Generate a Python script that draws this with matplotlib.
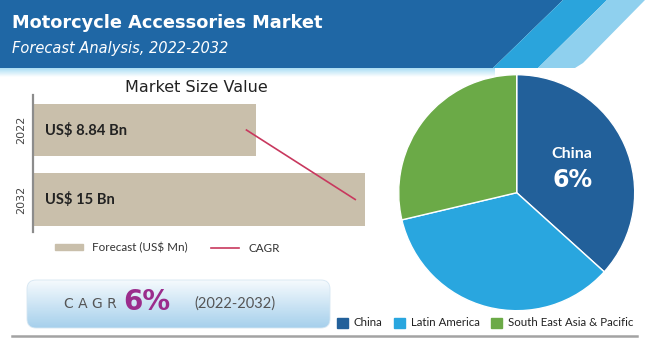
import numpy as np
import matplotlib.pyplot as plt
from matplotlib.patches import Polygon, FancyBboxPatch, Patch
from matplotlib.lines import Line2D

# data
years = ['2022', '2032']
market_size = [8.84, 15.0]
bar_labels = ['US$ 8.84 Bn', 'US$ 15 Bn']
regions = ['China', 'Latin America', 'South East Asia & Pacific']
region_share = [36.7, 34.6, 28.7]
cagr_value = '6%'

bar_color = '#C9BFAB'
line_color = '#C8385E'
region_colors = ['#22609A', '#29A6DF', '#6BAA47']

fig = plt.figure(figsize=(6.5, 3.41), dpi=100)

# background layer in pixel units
bg = fig.add_axes([0, 0, 1, 1], zorder=0)
bg.set_xlim(0, 650)
bg.set_ylim(341, 0)
bg.axis('off')

# header band with stripes
bg.add_patch(Polygon([(0, 0), (563, 0), (493, 68), (0, 68)], color='#1F67A5', lw=0))
bg.add_patch(Polygon([(563, 0), (607, 0), (538, 68), (493, 68)], color='#2AA4DC', lw=0))
bg.add_patch(Polygon([(607, 0), (645, 0), (583, 63), (575, 68), (538, 68)], color='#8FD0EE', lw=0))

def vgrad(c_top, c_bot, n=64):
    t = np.linspace(0, 1, n)[:, None, None]
    a = np.array(plt.matplotlib.colors.to_rgb(c_top))
    b = np.array(plt.matplotlib.colors.to_rgb(c_bot))
    return a * (1 - t) + b * t

bg.imshow(vgrad('#A9DDF4', '#FFFFFF'), extent=(0, 495, 77, 68), aspect='auto', zorder=0.5)

fig.text(12 / 650, 1 - 23 / 341, 'Motorcycle Accessories Market', color='white',
         fontsize=12.8, fontweight='bold', family='DejaVu Sans', va='center')
fig.text(12 / 650, 1 - 48 / 341, 'Forecast Analysis, 2022-2032', color='white',
         fontsize=10.5, fontstyle='italic', family='DejaVu Sans', va='center')

# bar chart
ax = fig.add_axes([33 / 650, 1 - 232 / 341, (372 - 33) / 650, 137 / 341], zorder=2)
ax.patch.set_alpha(0)
y = np.arange(len(years))
base = -3.8
vals = np.array(market_size)
ax.barh(y, vals - base, left=base, height=0.75, color=bar_color)
ax.plot(vals - 0.55, y, color=line_color, lw=1.2)
for yi, lab in zip(y, bar_labels):
    ax.text(base + 0.7, yi, lab, va='center', ha='left', fontsize=10.6,
            fontweight='bold', family='Lato', color='#222222')
ax.set_xlim(base, 15.4)
ax.set_ylim(1.468, -0.504)
ax.set_xticks([])
ax.set_yticks(y)
ax.set_yticklabels(years, rotation=90, va='center', fontsize=8, color='#444444')
ax.tick_params(axis='y', length=0, pad=5)
for s in ['top', 'right', 'bottom']:
    ax.spines[s].set_visible(False)
ax.spines['left'].set_color('#8C8C8C')
ax.spines['left'].set_linewidth(1.6)

fig.text(196 / 650, 1 - 87 / 341, 'Market Size Value', fontsize=11.5,
         family='DejaVu Sans', color='#222222', ha='center', va='center')

bar_handles = [Patch(color=bar_color, label='Forecast (US$ Mn)'),
               Line2D([], [], color=line_color, lw=1.2, label='CAGR')]
fig.legend(handles=bar_handles, ncol=2, frameon=False, loc='center left',
           bbox_to_anchor=(55 / 650, 1 - 248 / 341), borderpad=0, borderaxespad=0,
           prop={'family': 'Lato', 'size': 8.4}, handlelength=2.4, handleheight=0.4,
           handletextpad=0.8, columnspacing=2.0, labelcolor='#333333')

# CAGR box
box = FancyBboxPatch((27, 280), 303, 48, boxstyle='round,pad=0,rounding_size=9',
                     fc='none', ec='#D5E6F2', lw=0.6, zorder=1)
bg.add_patch(box)
im = bg.imshow(vgrad('#F5FAFD', '#A6D0EC'), extent=(27, 330, 328, 280), aspect='auto', zorder=0.8)
im.set_clip_path(box)
bg.text(90, 304, 'C A G R', fontsize=10, color='#555555', family='DejaVu Sans',
        ha='center', va='center', zorder=2)
bg.text(147, 302, cagr_value, fontsize=20, color='#9B2C8C', fontweight='bold',
        family='DejaVu Sans', ha='center', va='center', zorder=2)
bg.text(235, 304, '(2022-2032)', fontsize=10.5, color='#555555', family='Lato',
        ha='center', va='center', zorder=2)

bg.add_line(Line2D([12, 637], [336, 336], color='#A3A3A3', lw=1.8))

# pie chart
cx, cy, r = 516.7, 192.7, 118
pax = fig.add_axes([(cx - r) / 650, (341 - cy - r) / 341, 2 * r / 650, 2 * r / 341], zorder=2)
pax.pie(region_share, colors=region_colors, startangle=90, counterclock=False,
        wedgeprops=dict(edgecolor='white', linewidth=1))
pax.set_xlim(-1, 1)
pax.set_ylim(-1, 1)
pax.text(0.47, 0.33, regions[0], color='white', fontsize=11.5, fontweight='bold',
         family='Lato', ha='center', va='center')
pax.text(0.47, 0.11, cagr_value, color='white', fontsize=17, fontweight='bold',
         family='DejaVu Sans', ha='center', va='center')

pie_handles = [Patch(color=c, label=n) for c, n in zip(region_colors, regions)]
fig.legend(handles=pie_handles, ncol=3, frameon=False, loc='center left',
           bbox_to_anchor=(337 / 650, 1 - 323 / 341), borderpad=0, borderaxespad=0,
           prop={'family': 'Lato', 'size': 8.3}, handlelength=0.95, handleheight=0.95,
           handletextpad=0.5, columnspacing=1.0, labelcolor='#222222')

fig.savefig('out.png', dpi=100)
